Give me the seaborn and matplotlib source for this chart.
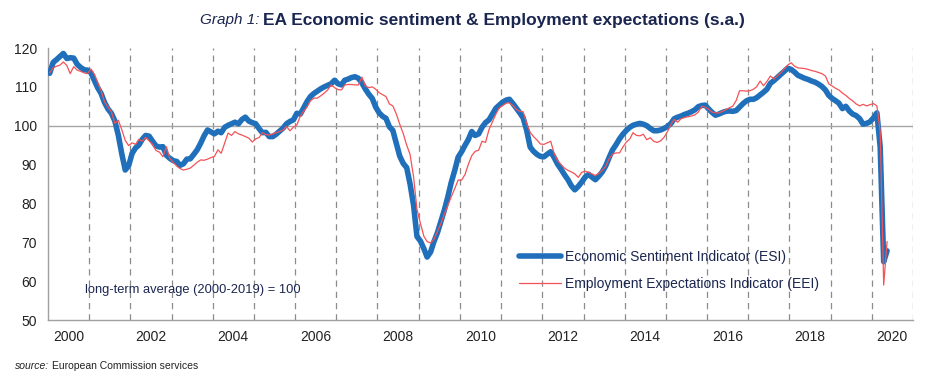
import numpy as np
import pandas as pd
import matplotlib.pyplot as plt
import matplotlib.dates as mdates
import seaborn as sns

# Monthly values, Jan 2000 .. May 2020
esi = [
    113.5, 116.3, 117.0, 117.8, 118.6, 117.3, 117.5, 117.4, 115.8, 115.0, 114.4, 114.3,  # 2000
    113.6, 111.6, 109.8, 108.3, 106.0, 104.3, 103.2, 101.2, 97.5, 92.8, 88.6, 89.7,      # 2001
    92.9, 94.3, 95.0, 96.5, 97.5, 97.3, 96.0, 94.8, 94.5, 94.6, 92.4, 91.6,              # 2002
    91.0, 90.8, 89.8, 90.2, 91.4, 91.5, 92.6, 93.8, 95.5, 97.4, 98.9, 98.4,              # 2003
    97.9, 98.6, 98.2, 99.6, 100.1, 100.5, 100.9, 100.5, 101.6, 102.2, 101.2, 100.8,      # 2004
    100.5, 99.2, 98.2, 98.3, 97.2, 97.2, 97.8, 98.6, 99.4, 100.5, 101.1, 101.5,          # 2005
    103.2, 103.0, 104.5, 106.2, 107.5, 108.3, 108.9, 109.5, 110.0, 110.4, 110.8, 111.7,  # 2006
    110.8, 110.5, 111.7, 112.0, 112.4, 112.6, 112.2, 111.0, 109.4, 108.1, 107.0, 104.8,  # 2007
    103.3, 102.4, 101.9, 99.7, 98.8, 95.5, 92.2, 90.3, 89.2, 85.0, 79.5, 71.5,           # 2008
    70.3, 68.3, 66.2, 67.5, 70.2, 72.5, 75.4, 78.3, 81.7, 85.4, 88.5, 91.9,              # 2009
    93.3, 95.0, 96.4, 98.5, 97.5, 97.9, 99.6, 100.8, 101.5, 103.0, 104.5, 105.3,         # 2010
    106.1, 106.6, 106.8, 105.7, 104.5, 103.3, 102.0, 98.8, 94.5, 93.4, 92.6, 92.1,       # 2011
    92.0, 92.7, 93.3, 91.8, 90.1, 88.8, 87.4, 86.1, 84.5, 83.5, 84.4, 85.5,              # 2012
    86.8, 87.5, 86.8, 86.1, 87.0, 88.1, 89.6, 91.8, 93.8, 95.1, 96.6, 97.8,              # 2013
    98.8, 99.6, 100.1, 100.4, 100.6, 100.4, 100.0, 99.3, 98.7, 98.7, 98.9, 99.3,         # 2014
    99.8, 100.6, 101.8, 102.2, 102.5, 102.9, 103.2, 103.6, 104.1, 104.9, 105.2, 105.3,   # 2015
    104.3, 103.4, 102.7, 103.0, 103.4, 103.7, 103.8, 103.7, 103.9, 104.8, 105.7, 106.4,  # 2016
    106.8, 106.8, 107.2, 107.9, 108.6, 109.4, 110.9, 111.6, 112.4, 113.2, 114.0, 114.8,  # 2017
    114.5, 113.8, 113.0, 112.6, 112.2, 111.9, 111.5, 111.2, 110.7, 110.1, 109.2, 107.8,  # 2018
    107.0, 106.4, 105.8, 104.4, 105.0, 103.8, 103.0, 102.6, 101.8, 100.4, 100.6, 101.0,  # 2019
    102.0, 103.3, 94.5, 65.0, 67.8,                                                      # 2020
]

eei = [
    113.6, 114.9, 115.3, 115.6, 116.4, 115.5, 113.4, 115.2, 114.3, 114.0, 113.6, 113.4,  # 2000
    114.6, 113.2, 111.2, 109.0, 106.2, 104.8, 103.6, 100.6, 101.4, 99.0, 96.2, 94.9,     # 2001
    95.6, 95.2, 96.5, 96.0, 97.0, 96.1, 95.2, 93.6, 93.2, 92.0, 94.6, 91.6,              # 2002
    90.5, 89.6, 89.0, 88.6, 88.8, 89.1, 89.8, 90.6, 91.2, 91.1, 91.4, 91.8,              # 2003
    92.1, 93.8, 92.9, 95.5, 98.1, 97.5, 98.5, 97.9, 97.6, 97.2, 96.8, 95.8,              # 2004
    96.6, 97.0, 98.2, 97.7, 97.6, 97.9, 98.2, 98.5, 98.9, 99.8, 98.7, 99.6,              # 2005
    100.2, 102.5, 103.7, 104.8, 106.4, 107.1, 107.1, 107.7, 108.4, 109.2, 110.5, 109.8,  # 2006
    109.3, 109.2, 110.5, 110.6, 110.6, 110.5, 110.5, 112.5, 110.2, 109.8, 110.0, 109.4,  # 2007
    108.5, 108.0, 107.5, 105.6, 105.1, 103.0, 100.4, 98.0, 95.0, 92.6, 86.8, 78.5,       # 2008
    74.8, 71.5, 70.2, 69.8, 70.8, 72.8, 74.8, 77.2, 79.5, 81.7, 83.8, 86.0,              # 2009
    86.0, 87.5, 90.0, 92.3, 93.4, 93.7, 96.0, 95.7, 99.0, 101.0, 103.0, 104.6,           # 2010
    105.2, 105.8, 105.9, 105.2, 104.2, 103.7, 103.6, 100.6, 98.3, 97.2, 96.3, 95.3,      # 2011
    95.2, 95.6, 96.0, 92.8, 91.0, 90.0, 89.1, 88.5, 88.1, 87.6, 86.7, 88.0,              # 2012
    88.3, 88.0, 87.6, 87.2, 87.7, 88.5, 89.5, 91.5, 92.7, 93.0, 93.0, 94.5,              # 2013
    95.8, 96.6, 98.2, 97.5, 97.4, 97.8, 96.4, 96.9, 96.0, 95.7, 96.1, 97.0,              # 2014
    98.5, 100.4, 101.6, 100.9, 101.8, 102.1, 102.3, 102.5, 102.8, 103.5, 105.0, 104.8,   # 2015
    104.2, 103.5, 103.3, 103.3, 103.7, 104.1, 104.6, 105.0, 106.5, 109.0, 109.0, 108.9,  # 2016
    109.0, 109.4, 110.0, 111.5, 110.3, 111.4, 112.8, 112.0, 112.8, 113.6, 114.6, 115.6,  # 2017
    116.2, 115.3, 114.9, 114.8, 114.7, 114.5, 114.2, 114.0, 113.7, 113.4, 112.8, 110.8,  # 2018
    110.2, 109.6, 109.2, 108.4, 107.8, 107.0, 106.4, 105.6, 105.1, 105.5, 105.1, 105.4,  # 2019
    105.7, 105.1, 98.5, 59.0, 70.2,                                                      # 2020
]

y_ticks = [50, 60, 70, 80, 90, 100, 110, 120]
x_label_years = list(range(2000, 2021, 2))
grid_years = list(range(2001, 2022))

ESI_COLOR = '#1f6fba'
EEI_COLOR = '#f45256'
TEXT_COLOR = '#1b2650'

sns.set_style('white')
plt.rcParams['font.family'] = ['Liberation Sans', 'DejaVu Sans']

dates = pd.date_range('2000-01-01', periods=len(esi), freq='MS') + pd.Timedelta(days=15)
df = pd.DataFrame({'date': dates, 'esi': esi, 'eei': eei})

fig = plt.figure(figsize=(9.35, 3.77), dpi=100)
ax = fig.add_axes([48 / 935, 57 / 377, 865 / 935, 272 / 377])

# year separators and long-term average
for yr in grid_years:
    ax.axvline(pd.Timestamp(f'{yr}-01-01'), color='#8c8c8c', lw=0.9, ls=(0, (5, 4)), zorder=1)
ax.axhline(100, color='#a6a6a6', lw=1.0, zorder=1)

sns.lineplot(x='date', y='esi', data=df, color=ESI_COLOR, linewidth=4.0,
             ax=ax, zorder=3, label='Economic Sentiment Indicator (ESI)')
sns.lineplot(x='date', y='eei', data=df, color=EEI_COLOR, linewidth=0.9,
             ax=ax, zorder=4, label='Employment Expectations Indicator (EEI)')

ax.set_xlim(pd.Timestamp('2000-01-01'), pd.Timestamp('2021-01-01'))
ax.set_ylim(50, 120)
ax.set_yticks(y_ticks)
ax.set_xticks([pd.Timestamp(f'{y}-07-01') for y in x_label_years])
ax.set_xticklabels([str(y) for y in x_label_years])
ax.tick_params(axis='both', length=0, labelsize=10, labelcolor='#222222')
ax.tick_params(axis='x', pad=7)
ax.tick_params(axis='y', pad=8)
ax.set_xlabel('')
ax.set_ylabel('')

for side in ['top', 'right']:
    ax.spines[side].set_visible(False)
for side in ['left', 'bottom']:
    ax.spines[side].set_color('#a0a0a0')
    ax.spines[side].set_linewidth(1.0)

leg = ax.legend(loc='upper left', bbox_to_anchor=(0.545, 0.258), frameon=False,
                fontsize=10, handlelength=3.0, handletextpad=0.25, labelspacing=0.95,
                borderpad=0, borderaxespad=0)
for txt in leg.get_texts():
    txt.set_color(TEXT_COLOR)

ax.text(0.043, 0.11, 'long-term average (2000-2019) = 100', transform=ax.transAxes,
        fontsize=9.3, color=TEXT_COLOR, ha='left', va='center')

fig.text(259 / 935, 1 - 20 / 377, 'Graph 1:', fontsize=11, style='italic',
         color=TEXT_COLOR, ha='right', va='center')
fig.text(263 / 935, 1 - 20 / 377, 'EA Economic sentiment & Employment expectations (s.a.)',
         fontsize=12.5, fontweight='bold', color=TEXT_COLOR, ha='left', va='center')
fig.text(15 / 935, 1 - 366 / 377, 'source:', fontsize=7.5, style='italic',
         color='#222222', ha='left', va='center')
fig.text(52 / 935, 1 - 366 / 377, 'European Commission services', fontsize=7.5,
         color='#222222', ha='left', va='center')

fig.savefig('out.png', dpi=100)
